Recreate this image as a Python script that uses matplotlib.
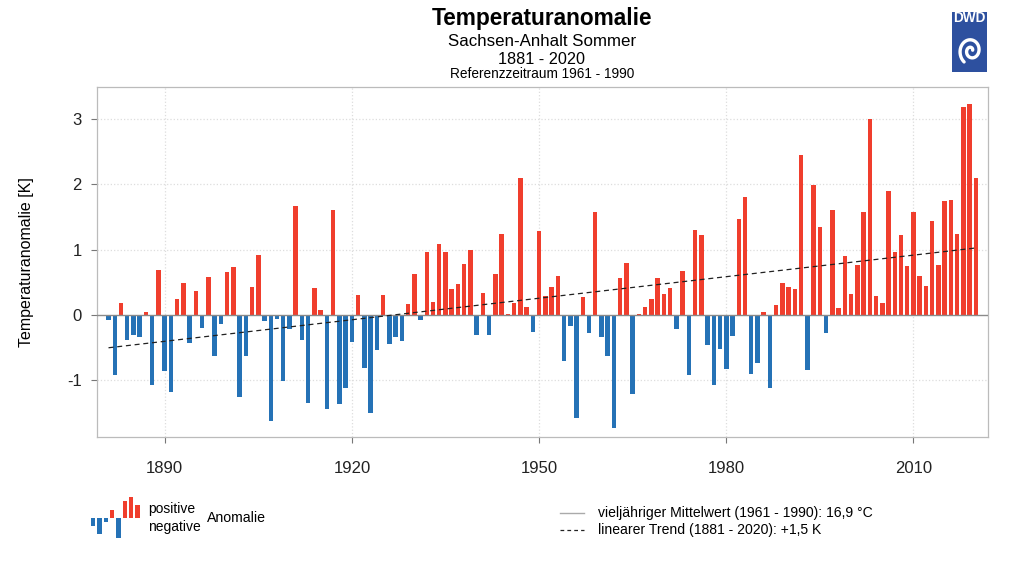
import numpy as np
import matplotlib
matplotlib.use("Agg")
from matplotlib import pyplot as plt

plt.rcParams['font.family'] = ['Liberation Sans', 'DejaVu Sans']
plt.rcParams['axes.unicode_minus'] = False

# Sommer-Anomalien Sachsen-Anhalt, 1881-2020 (Referenz 1961-1990)
years = list(range(1881, 2021))
anomalie = [
    -0.07, -0.92, 0.19, -0.38, -0.31, -0.33, 0.04, -1.07, 0.69, -0.86,
    -1.18, 0.24, 0.49, -0.43, 0.37, -0.20, 0.58, -0.62, -0.14, 0.65,
    0.74, -1.26, -0.62, 0.43, 0.92, -0.09, -1.62, -0.06, -1.01, -0.22,
    1.66, -0.38, -1.35, 0.41, 0.07, -1.43, 1.61, -1.36, -1.12, -0.41,
    0.30, -0.81, -1.50, -0.53, 0.31, -0.45, -0.33, -0.39, 0.17, 0.63,
    -0.07, 0.97, 0.20, 1.09, 0.96, 0.40, 0.48, 0.78, 1.00, -0.31,
    0.34, -0.30, 0.62, 1.24, 0.02, 0.18, 2.09, 0.12, -0.26, 1.29,
    0.29, 0.43, 0.60, -0.71, -0.17, -1.58, 0.28, -0.27, 1.57, -0.34,
    -0.62, -1.72, 0.56, 0.79, -1.20, 0.02, 0.12, 0.25, 0.57, 0.32,
    0.42, -0.22, 0.68, -0.92, 1.30, 1.23, -0.46, -1.07, -0.52, -0.82,
    -0.32, 1.46, 1.80, -0.90, -0.73, 0.04, -1.12, 0.16, 0.49, 0.43,
    0.40, 2.45, -0.84, 1.98, 1.35, -0.27, 1.60, 0.11, 0.90, 0.32,
    0.77, 1.58, 2.99, 0.29, 0.19, 1.90, 0.96, 1.22, 0.75, 1.57,
    0.60, 0.45, 1.43, 0.76, 1.75, 1.76, 1.24, 3.18, 3.22, 2.10,
]
x_ticks = [1890, 1920, 1950, 1980, 2010]
y_ticks = [-1, 0, 1, 2, 3]

# kleines Symbol fuer die Legende links unten
legende_balken = [-8, -16, -4, 8, -20, 17, 21, 13]

rot = '#f03e2d'
blau = '#2572b6'

fig = plt.figure(figsize=(10.24, 5.76), dpi=100)
ax = fig.add_axes([0.0944, 0.2418, 0.8702, 0.6066])

farben = [rot if v >= 0 else blau for v in anomalie]
ax.bar(years, anomalie, width=0.72, color=farben, edgecolor='none', zorder=3)

ax.axhline(0, color='#8a8a8a', lw=1.0, zorder=4)

# linearer Trend
k, d = np.polyfit(years, anomalie, 1)
yr = np.array([years[0], years[-1]])
ax.plot(yr, k * yr + d, color='#222222', lw=0.9, ls=(0, (4, 3)), zorder=5)

ax.set_xlim(1879.1, 2021.9)
ax.set_ylim(-1.86, 3.48)
ax.set_xticks(x_ticks)
ax.set_yticks(y_ticks)
ax.tick_params(labelsize=12, labelcolor='#222222', length=4.2, width=0.8, color='#777777')
ax.tick_params(axis='x', pad=13)
ax.tick_params(axis='y', pad=6.5)
for t in x_ticks:
    ax.axvline(t, color='#dddddd', lw=0.9, ls=':', zorder=1)
for t in [-1, 1, 2, 3]:
    ax.axhline(t, color='#dddddd', lw=0.9, ls=':', zorder=1)
for s in ax.spines.values():
    s.set_color('#bbbbbb')
    s.set_linewidth(0.9)
ax.set_ylabel('Temperaturanomalie [K]', fontsize=11.5)
ax.yaxis.set_label_coords(-0.070, 0.5)

# Titel
fig.text(0.529, 1 - 19 / 576, 'Temperaturanomalie', ha='center', va='center',
         fontsize=16.3, fontweight='bold')
fig.text(0.529, 1 - 41 / 576, 'Sachsen-Anhalt Sommer', ha='center', va='center', fontsize=12.2)
fig.text(0.529, 1 - 60 / 576, '1881 - 2020', ha='center', va='center', fontsize=11.7)
fig.text(0.529, 1 - 74 / 576, 'Referenzzeitraum 1961 - 1990', ha='center', va='center', fontsize=9.8)

# DWD-Logo
lax = fig.add_axes([951.7 / 1024, 1 - 71.7 / 576, 35.6 / 1024, 60 / 576])
lax.set_xlim(0, 35.6)
lax.set_ylim(0, 60)
lax.axis('off')
lax.add_patch(plt.Rectangle((0, 0), 35.6, 60, color='#2d509f'))
lax.text(17.8, 53.5, 'DWD', color='white', fontsize=9.8, fontweight='bold',
         ha='center', va='center')
th = np.linspace(0.3, 3.3 * np.pi, 200)
r = 1.2 + th * 1.05
lax.plot(19.5 + r * np.cos(th) * 1.0, 21 + r * np.sin(th) * 1.15, color='white', lw=2.4,
         solid_capstyle='round')

# Legende links
gax = fig.add_axes([90 / 1024, 1 - 540 / 576, 52 / 1024, 45 / 576])
gax.bar(range(len(legende_balken)), legende_balken, width=0.7,
        color=[rot if v > 0 else blau for v in legende_balken])
gax.set_xlim(-0.5, len(legende_balken) - 0.3)
gax.set_ylim(-22, 23)
gax.axis('off')
fig.text(148 / 1024, 1 - 509 / 576, 'positive', fontsize=10, va='center')
fig.text(148 / 1024, 1 - 527 / 576, 'negative', fontsize=10, va='center')
fig.text(207 / 1024, 1 - 518 / 576, 'Anomalie', fontsize=10.2, va='center')

# Legende rechts
fig.add_artist(plt.Line2D([560 / 1024, 584 / 1024], [1 - 513 / 576] * 2,
                          color='#aaaaaa', lw=1.0))
fig.add_artist(plt.Line2D([560 / 1024, 584 / 1024], [1 - 530 / 576] * 2,
                          color='#222222', lw=0.9, ls=(0, (3, 2.5))))
fig.text(598 / 1024, 1 - 513 / 576, 'vieljähriger Mittelwert (1961 - 1990): 16,9 °C',
         fontsize=10.1, va='center')
fig.text(598 / 1024, 1 - 530 / 576, 'linearer Trend (1881 - 2020): +1,5 K',
         fontsize=10.1, va='center')

fig.savefig('out.png', dpi=100)
